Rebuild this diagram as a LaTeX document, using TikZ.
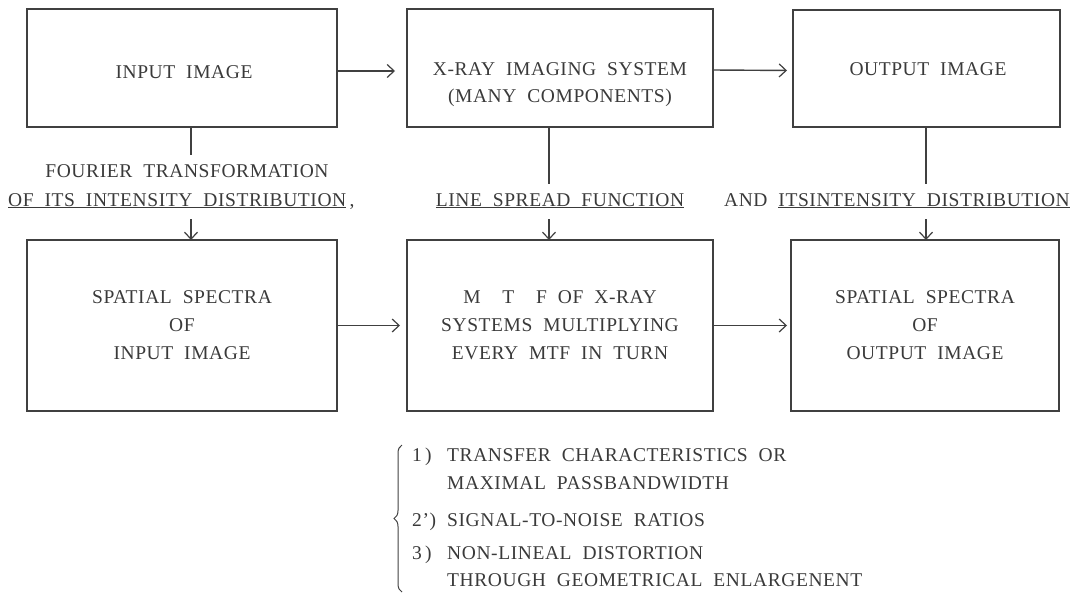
\documentclass[tikz,border=0pt]{standalone}
\usepackage{fontspec}
\setmainfont{Liberation Serif}[WordSpace=2.0,LetterSpace=3]
\usetikzlibrary{arrows.meta,decorations.pathreplacing}
\definecolor{ink}{HTML}{3A3A3A}
\definecolor{linec}{HTML}{404040}
\begin{document}
\begin{tikzpicture}[x=1pt,y=-1pt,
  box/.style={draw=linec,line width=1.4pt,inner sep=0pt,outer sep=0pt,align=center,text=ink,font=\fontsize{19.5}{28}\selectfont},
  txt/.style={text=ink,inner sep=0pt,font=\fontsize{19.5}{27}\selectfont,align=center},
  itm/.style={text=ink,inner sep=0pt,font=\fontsize{19.5}{27}\selectfont,anchor=base west},
  conn/.style={draw=linec,line width=1.4pt},
  arr/.style={conn,-{Straight Barb[length=7pt,width=13pt,line width=1.2pt]}}]
\useasboundingbox (0,0) rectangle (1075,598);
% top row
\node[box,minimum width=310,minimum height=118] (in) at (182,68) {};
\node[txt] (inT) at (184,72) {INPUT IMAGE};
\node[box,minimum width=306,minimum height=118] (xray) at (560,68) {};
\node[txt] (xrayT) at (560,85) {X-RAY IMAGING SYSTEM\\(MANY COMPONENTS)};
\node[box,minimum width=267,minimum height=117] (out) at (926.5,68.5) {};
\node[txt] (outT) at (928,69) {OUTPUT IMAGE};
% bottom row
\node[box,minimum width=310,minimum height=171] (sin) at (182,325.5) {SPATIAL SPECTRA\\OF\\INPUT IMAGE};
\node[box,minimum width=306,minimum height=171] (mtf) at (560,325.5) {M\ \ T\ \ F OF X-RAY\\SYSTEMS MULTIPLYING\\EVERY MTF IN TURN};
\node[box,minimum width=268,minimum height=171] (sout) at (925,325.5) {SPATIAL SPECTRA\\OF\\OUTPUT IMAGE};
% horizontal arrows
\draw[arr,shorten >=12pt] ([yshift=-3pt]in.east) -- ([yshift=-3pt]xray.west);
\draw[arr,shorten >=6pt] ([yshift=-2pt]xray.east) -- ([yshift=-2pt]out.west);
\draw[arr,shorten >=7pt] (sin.east) -- (mtf.west);
\draw[arr,shorten >=4pt] (mtf.east) -- (sout.west);
% labels between rows
\node[txt] (four) at (187,171) {FOURIER TRANSFORMATION};
\node[txt,anchor=base west] (ofits) at (8,206) {\underline{OF ITS INTENSITY DISTRIBUTION}\,,};
\node[txt,anchor=base] (lsf) at (560,206) {\underline{LINE SPREAD FUNCTION}};
\node[txt,anchor=base east] (andits) at (1070,206) {AND \underline{ITSINTENSITY DISTRIBUTION}};
\coordinate (c1) at (191,155);
\coordinate (c2) at (191,219);
\coordinate (c3) at (549,184);
\coordinate (c4) at (549,219);
\coordinate (c5) at (926,184);
\coordinate (c6) at (926,219);
\draw[conn] (in.south -| c1) -- (c1);
\draw[arr] (c2) -- (sin.north -| c2);
\draw[conn] (xray.south -| c3) -- (c3);
\draw[arr] (c4) -- (mtf.north -| c4);
\draw[conn] (out.south -| c5) -- (c5);
\draw[arr] (c6) -- (sout.north -| c6);
% list
\coordinate (b1) at (402,592);
\coordinate (b2) at (402,445);
\draw[conn,line width=1pt,decorate,decoration={brace,amplitude=8pt}] (b1) -- (b2);
\node[itm] (l1) at (412,461) {\makebox[35pt][l]{1\,)}TRANSFER CHARACTERISTICS OR};
\node[itm] (l2) at (412,489) {\makebox[35pt][l]{}MAXIMAL PASSBANDWIDTH};
\node[itm] (l3) at (412,526) {\makebox[35pt][l]{2')}SIGNAL-TO-NOISE RATIOS};
\node[itm] (l4) at (412,559) {\makebox[35pt][l]{3\,)}NON-LINEAL DISTORTION};
\node[itm] (l5) at (412,586) {\makebox[35pt][l]{}THROUGH GEOMETRICAL ENLARGENENT};
\end{tikzpicture}
\end{document}
